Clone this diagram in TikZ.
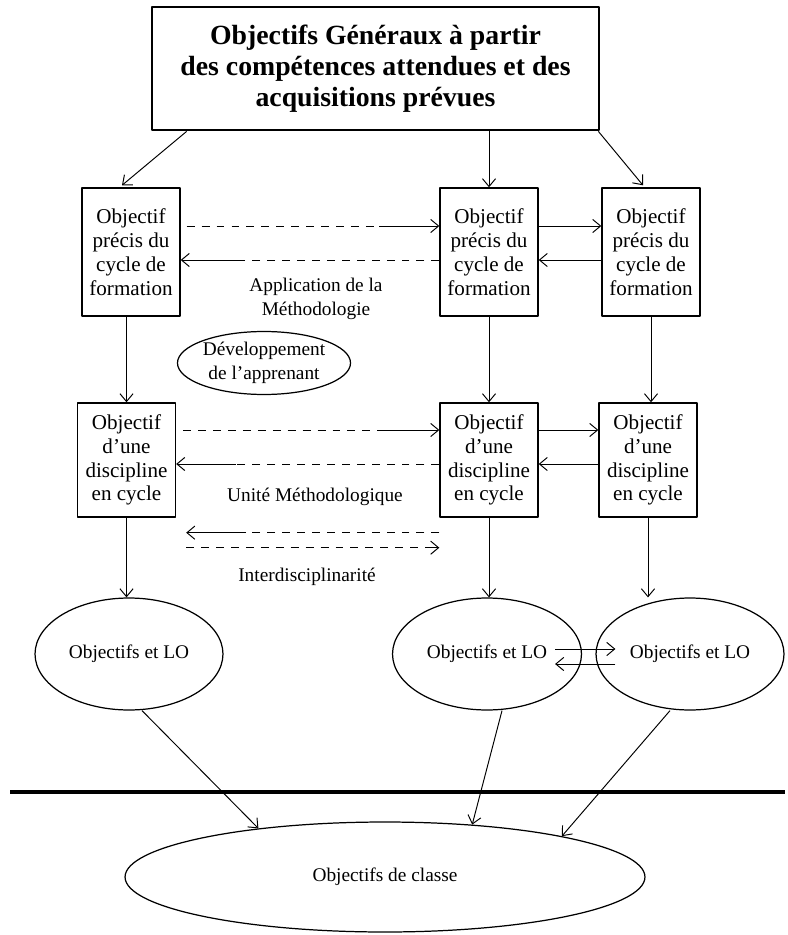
\documentclass[tikz,border=0pt]{standalone}
\usepackage{fontspec}
\setmainfont{Liberation Serif}
\usetikzlibrary{arrows.meta,calc,shapes.geometric}
\begin{document}
\begin{tikzpicture}[x=0.02cm,y=-0.02cm,>={Straight Barb[length=4.5pt,width=7.5pt]},line join=round,
	box/.style={draw,line width=0.8pt,align=center,inner sep=0pt,minimum width=1.96cm,minimum height=2.56cm,font=\fontsize{12}{13.6}\selectfont},
	dbox/.style={box,minimum height=2.28cm},
	titlebox/.style={draw,line width=1.6pt,align=center,inner sep=0pt,minimum width=8.94cm,minimum height=2.46cm,font=\fontsize{15.8}{17.6}\selectfont\bfseries},
	oval/.style={draw,ellipse,line width=0.7pt,align=center,inner sep=0pt,font=\fontsize{11}{13.6}\selectfont},
	lbl/.style={align=center,font=\fontsize{11}{13.6}\selectfont},
	arr/.style={->,line width=0.55pt},
	dsh/.style={line width=0.55pt,dash pattern=on 4.5pt off 4pt}]
	\useasboundingbox (0,0) rectangle (787,935);
	% objectifs generaux
	\node[titlebox] (top) at (375.5,68.5) {Objectifs Généraux à partir\\des compétences attendues et des\\acquisitions prévues};
	% cycles de formation
	\node[box] (p1) at (131,252) {Objectif\\précis du\\cycle de\\formation};
	\node[box] (p2) at (489,252) {Objectif\\précis du\\cycle de\\formation};
	\node[box] (p3) at (651,252) {Objectif\\précis du\\cycle de\\formation};
	\node[lbl] (meth) at (316,299) {Application de la\\Méthodologie};
	\node[oval,minimum width=3.2cm,minimum height=1.26cm] (dev) at (264,363) {Développement\\de l’apprenant};
	% disciplines
	\node[dbox] (d1) at (126.5,460) {Objectif\\d’une\\discipline\\en cycle};
	\node[dbox] (d2) at (489,460) {Objectif\\d’une\\discipline\\en cycle};
	\node[dbox] (d3) at (648,460) {Objectif\\d’une\\discipline\\en cycle};
	\node[lbl] (unite) at (315,497) {Unité Méthodologique};
	\node[lbl] (inter) at (307,577) {Interdisciplinarité};
	% objectifs et LO
	\node[oval,minimum width=3.76cm,minimum height=2.24cm] (e1) at (129,654) {Objectifs et LO};
	\node[oval,minimum width=3.78cm,minimum height=2.24cm] (e2) at (487,654) {Objectifs et LO};
	\node[oval,minimum width=3.76cm,minimum height=2.24cm] (e3) at (690,654) {Objectifs et LO};
	\node[oval,minimum width=10.4cm,minimum height=2.2cm] (cls) at (385,877) {Objectifs de classe};
	\draw[line width=2.8pt] (10,792)--(785,792);
	% fleches du haut
	\draw[arr] ($(top.south west)+(36,0)$)--($(p1.north)+(-9,-2)$);
	\draw[arr] (top.south-|p2.north)--(p2.north);
	\draw[arr] ($(top.south east)+(-2,0)$)--($(p3.north)+(-8,-2)$);
	% premier niveau
	\draw[dsh] ($(p1.east)+(6,-26)$)--($(p2.west)+(-60,-26)$);
	\draw[arr] ($(p2.west)+(-60,-26)$)--($(p2.west)+(0,-26)$);
	\draw[dsh] ($(p2.west)+(0,8)$)--($(p1.east)+(60,8)$);
	\draw[arr] ($(p1.east)+(60,8)$)--($(p1.east)+(0,8)$);
	\draw[arr] ($(p2.east)+(0,-26)$)--($(p3.west)+(0,-26)$);
	\draw[arr] ($(p3.west)+(0,8)$)--($(p2.east)+(0,8)$);
	\draw[arr] (d1.north|-p1.south)--(d1.north);
	\draw[arr] (p2.south)--(d2.north);
	\draw[arr] (p3.south)--(p3.south|-d3.north);
	% second niveau
	\draw[dsh] ($(d1.east)+(7,-30)$)--($(d2.west)+(-60,-30)$);
	\draw[arr] ($(d2.west)+(-60,-30)$)--($(d2.west)+(0,-30)$);
	\draw[dsh] ($(d2.west)+(0,4)$)--($(d1.east)+(60,4)$);
	\draw[arr] ($(d1.east)+(60,4)$)--($(d1.east)+(0,4)$);
	\draw[arr] ($(d2.east)+(0,-30)$)--($(d3.west)+(0,-30)$);
	\draw[arr] ($(d3.west)+(0,4)$)--($(d2.east)+(0,4)$);
	\draw[dsh] ($(d2.south west)+(0,15)$)--($(d1.south east)+(70,15)$);
	\draw[arr] ($(d1.south east)+(70,15)$)--($(d1.south east)+(10,15)$);
	\draw[dsh] ($(d1.south east)+(10,30)$)--($(d2.south west)+(-8,30)$);
	\draw[arr] ($(d2.south west)+(-8,30)$)--($(d2.south west)+(0,30)$);
	\draw[arr] (d1.south)--(d1.south|-e1.north);
	\draw[arr] (d2.south)--(d2.south|-e2.north);
	\draw[arr] (d3.south)--(d3.south|-e3.north);
	% vers la classe
	\draw[arr] ($(e2.east)+(-27,-5)$)--($(e3.west)+(20,-5)$);
	\draw[arr] ($(e3.west)+(20,10)$)--($(e2.east)+(-27,10)$);
	\draw[arr] ($(e1.south)+(13,0)$)--(cls.159);
	\draw[arr] ($(e2.south)+(15,0)$)--(cls.31);
	\draw[arr] ($(e3.south)+(-20,0)$)--(cls.13);
\end{tikzpicture}
\end{document}
